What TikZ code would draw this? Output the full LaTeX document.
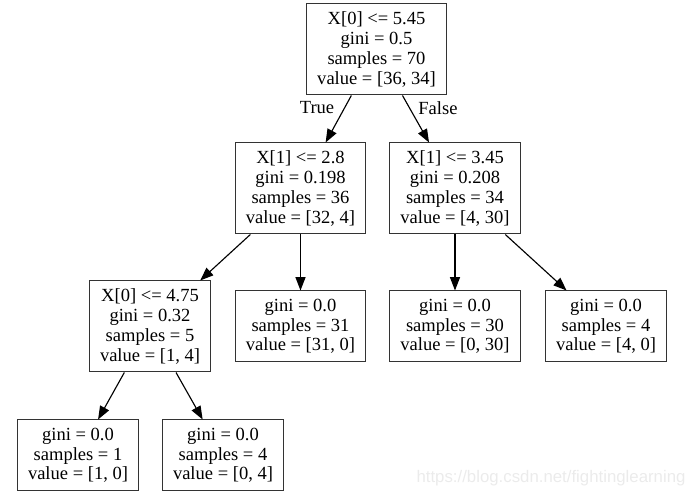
\documentclass[tikz,border=0pt]{standalone}
\usepackage{fontspec}
\setmainfont{Liberation Serif}
\newfontfamily\marksans{Liberation Sans}
\usetikzlibrary{arrows.meta}
\begin{document}
\begin{tikzpicture}[
    x=0.75pt, y=-0.75pt,
    font=\fontsize{13.9}{14.8}\selectfont,
    box/.style={draw=black!80, line width=0.75pt, rectangle, align=center,
                inner xsep=8pt, inner ysep=0pt, fill=white},
    split/.style={box, minimum height=68.25pt},
    leaf/.style={box, minimum height=53.25pt},
    edge/.style={-{Triangle[length=10pt, width=7.5pt]}, line width=0.85pt}]
    \useasboundingbox (0,0) rectangle (690,495);
    \node[split] (root)    at (376.5, 49.5)  {X[0] <= 5.45\\gini = 0.5\\samples = 70\\value = [36, 34]};
    \node[split] (splitL)  at (300.5, 188.5) {X[1] <= 2.8\\gini = 0.198\\samples = 36\\value = [32, 4]};
    \node[split] (splitR)  at (455, 188.5)   {X[1] <= 3.45\\gini = 0.208\\samples = 34\\value = [4, 30]};
    \node[split] (splitLL) at (150, 326.5)   {X[0] <= 4.75\\gini = 0.32\\samples = 5\\value = [1, 4]};
    \node[leaf]  (leafLR)  at (300.5, 326.5) {gini = 0.0\\samples = 31\\value = [31, 0]};
    \node[leaf]  (leafRL)  at (455, 326.5)   {gini = 0.0\\samples = 30\\value = [0, 30]};
    \node[leaf]  (leafRR)  at (606, 326.5)   {gini = 0.0\\samples = 4\\value = [4, 0]};
    \node[leaf]  (leafLLL) at (78, 455.5)    {gini = 0.0\\samples = 1\\value = [1, 0]};
    \node[leaf]  (leafLLR) at (223, 455.5)   {gini = 0.0\\samples = 4\\value = [0, 4]};
    \foreach \a/\b in {root/splitL, root/splitR, splitL/splitLL, splitL/leafLR,
                       splitR/leafRL, splitR/leafRR, splitLL/leafLLL, splitLL/leafLLR}
        \draw[edge] (\a) -- (\b);
    % edge labels of the root split
    \node (lblTrue)  at (317, 108) {True};
    \node (lblFalse) at (438, 108) {False};
    \node[text=black!8, font=\marksans\fontsize{12.6}{14}\selectfont] (mark) at (551, 478) {https://blog.csdn.net/fightinglearning};
\end{tikzpicture}
\end{document}
